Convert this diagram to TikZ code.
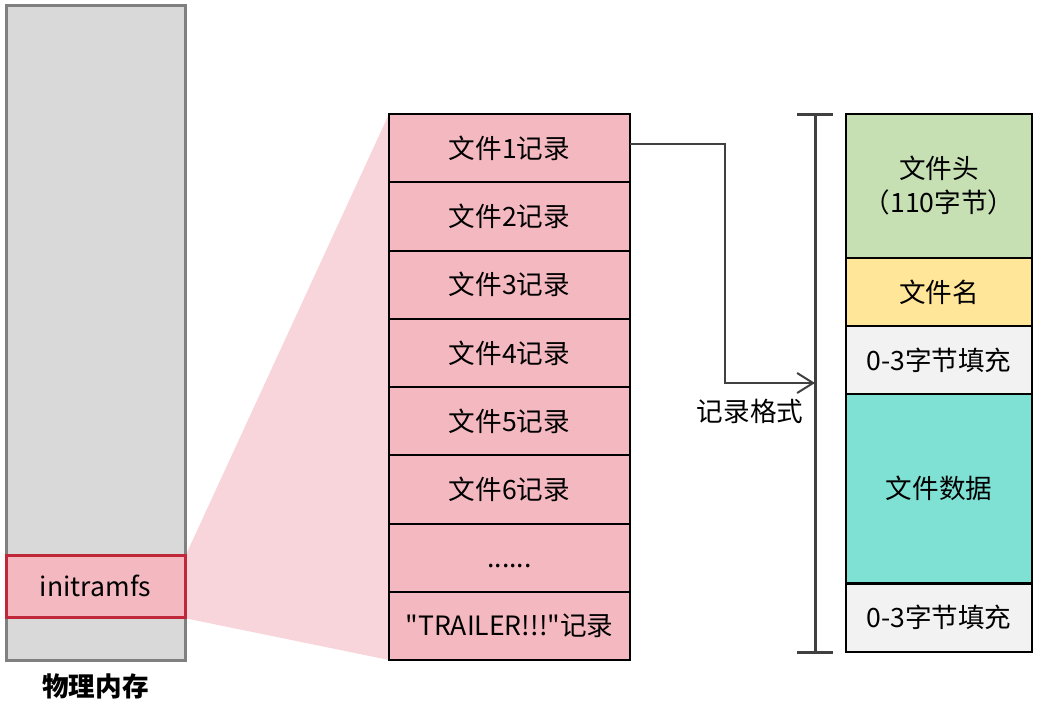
\documentclass[tikz,border=0pt]{standalone}
\usepackage{fontspec}
\setmainfont{Noto Sans CJK SC}[Ligatures=TeXOff]
\usetikzlibrary{arrows.meta,backgrounds}

\definecolor{memgray}{RGB}{217,217,217}
\definecolor{memedge}{RGB}{128,128,128}
\definecolor{recpink}{RGB}{244,184,192}
\definecolor{zoompink}{RGB}{248,213,218}
\definecolor{initred}{RGB}{192,40,58}
\definecolor{hdrgreen}{RGB}{198,224,180}
\definecolor{nameyellow}{RGB}{255,230,153}
\definecolor{padgray}{RGB}{242,242,242}
\definecolor{datateal}{RGB}{127,224,212}
\definecolor{linkgray}{RGB}{64,64,64}

\begin{document}
\begin{tikzpicture}[x=0.5pt,y=-0.5pt,
txt/.style={font=\fontsize{13.3}{17}\selectfont},
cell/.style={txt,draw=black,line width=1pt,inner sep=0pt,outer sep=0pt,
  minimum width=120.5pt,align=center},
rec/.style={cell,fill=recpink,minimum height=34.1pt},
fmt/.style={cell,minimum width=93pt},
link/.style={draw=linkgray,line width=1pt,-{Straight Barb[length=8pt,width=10pt,line width=1pt]}} ]

\useasboundingbox (0,0) rectangle (1038,702);

% physical memory
\node[draw=memedge,fill=memgray,line width=1.5pt,minimum width=89.5pt,
  minimum height=327.5pt,inner sep=0pt] (mem) at (95.5,332.5) {};
\node[txt,draw=initred,fill=recpink,line width=1.5pt,minimum width=89.5pt,
  minimum height=31pt,inner sep=0pt] (initrd) at (95.5,586) {initramfs};
\node[txt,font=\fontsize{13.3}{17}\selectfont\bfseries] (memlabel) at (95.5,686) {物理内存};

% records
\node[rec] (rec1) at (509.5,148.1) {文件1记录};
\node[rec] (rec2) at (509.5,216.4) {文件2记录};
\node[rec] (rec3) at (509.5,284.6) {文件3记录};
\node[rec] (rec4) at (509.5,352.9) {文件4记录};
\node[rec] (rec5) at (509.5,421.1) {文件5记录};
\node[rec] (rec6) at (509.5,489.4) {文件6记录};
\node[rec] (rec7) at (509.5,557.6) {\vphantom{文}......};
\node[rec] (rec8) at (509.5,625.9) {"TRAILER!!!"记录};

\begin{scope}[on background layer]
\fill[zoompink] (initrd.north east) -- (rec1.north west) -- (rec8.south west) -- (initrd.south east) -- cycle;
\end{scope}

% record format
\node[fmt,fill=hdrgreen,minimum height=72pt] (hdr) at (939,186) {文件头\\（110字节）};
\node[fmt,fill=nameyellow,minimum height=34pt] (fname) at (939,292) {文件名};
\node[fmt,fill=padgray,minimum height=34pt] (pad1) at (939,360) {0-3字节填充};
\node[fmt,fill=datateal,minimum height=94.5pt] (fdata) at (939,488.5) {文件数据};
\node[fmt,fill=padgray,minimum height=34pt] (pad2) at (939,617.5) {0-3字节填充};

% bracket
\coordinate (brtop) at (815,114);
\coordinate (brbot) at (815,652);
\draw[draw=linkgray,line width=1.5pt] (brtop) -- (brbot)
  ([xshift=-9pt]brtop) -- ([xshift=9pt]brtop)
  ([xshift=-9pt]brbot) -- ([xshift=9pt]brbot);

\coordinate (bend) at (725,383);
\draw[link] (rec1.east |- 0,144) -| (bend) -- (bend -| brtop);
\node[txt] (fmtlabel) at (750,411) {记录格式};

\end{tikzpicture}
\end{document}
